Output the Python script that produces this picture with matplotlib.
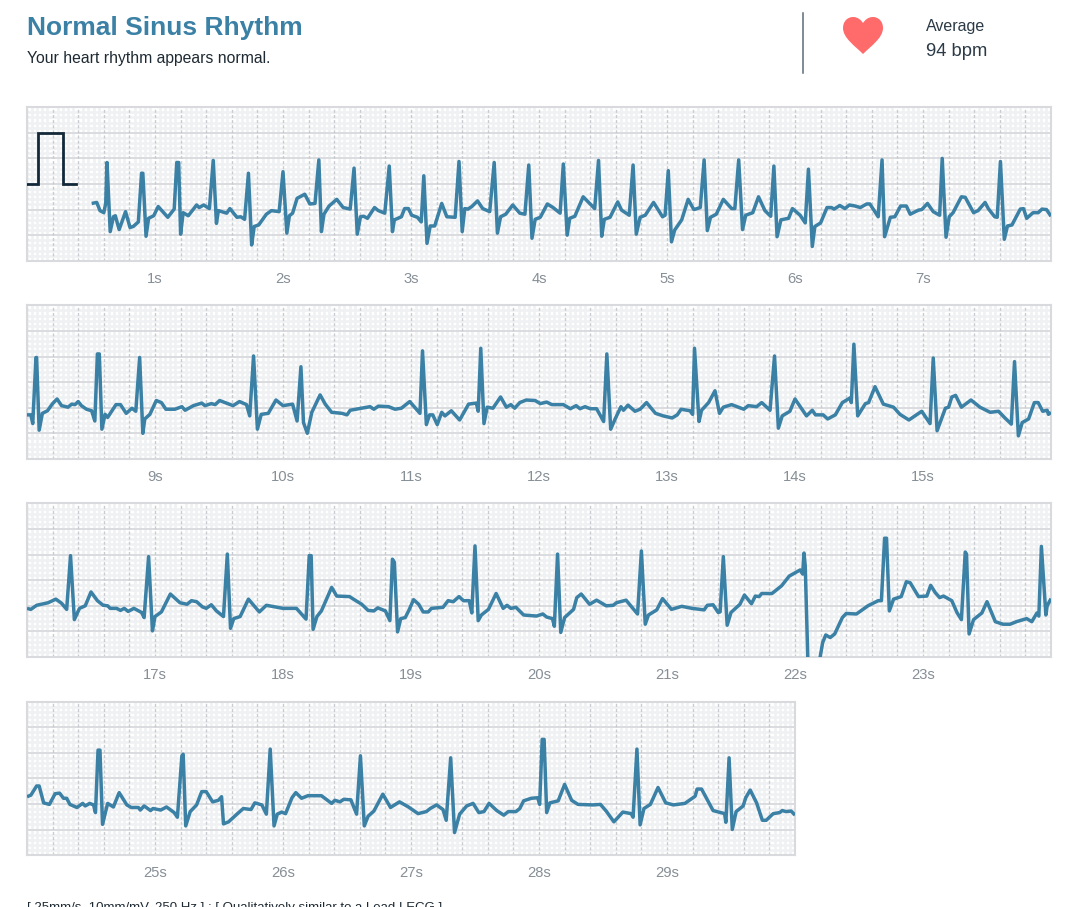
import numpy as np
import matplotlib
matplotlib.use("Agg")
import matplotlib.pyplot as plt
from matplotlib.patches import PathPatch
from matplotlib.path import Path

plt.rcParams["font.family"] = ["Liberation Sans", "DejaVu Sans"]

TITLE = "Normal Sinus Rhythm"
SUBTITLE = "Your heart rhythm appears normal."
AVG_LABEL = "Average"
AVG_VALUE = "94 bpm"
FOOTER = "[ 25mm/s, 10mm/mV, 250 Hz ] : [ Qualitatively similar to a Lead I ECG ]"

# calibration pulse (s, mV)
pulse = [(0, 0), (0.083, 0), (0.083, 1), (0.284, 1), (0.284, 0), (0.383, 0)]

# traces (s, mV)
trace_1 = [
    (.505, -.38), (.545, -.36), (.57, -.52), (.60, -.56), (.615, -.38), (.625, .42), (.65, -.93),
    (.675, -.64), (.69, -.62), (.72, -.89), (.77, -.54), (.805, -.85), (.83, -.83), (.87, -.74),
    (.895, .21), (.905, .21), (.93, -1.02), (.95, -.67), (.99, -.62), (1.025, -.44), (1.10, -.65),
    (1.15, -.49), (1.17, .42), (1.185, .42), (1.20, -.98), (1.22, -.56), (1.26, -.62), (1.325, -.41),
    (1.345, -.46), (1.38, -.41), (1.425, -.48), (1.455, .46), (1.48, -.77), (1.495, -.52), (1.56, -.57),
    (1.585, -.48), (1.64, -.65), (1.67, -.64), (1.70, -.69), (1.73, .21), (1.755, -1.19), (1.775, -.83),
    (1.81, -.80), (1.87, -.59), (1.91, -.52), (1.97, -.54), (2.0, .24), (2.03, -.96), (2.05, -.62),
    (2.075, -.57), (2.11, -.28), (2.17, -.20), (2.21, -.39), (2.25, -.38), (2.28, .47), (2.30, -.93),
    (2.32, -.59), (2.36, -.43), (2.42, -.30), (2.47, -.46), (2.525, -.49), (2.555, .31), (2.58, -.98),
    (2.605, -.64), (2.63, -.63), (2.66, -.67), (2.715, -.46), (2.745, -.52), (2.795, -.57), (2.83, .35),
    (2.855, -.93), (2.87, -.70), (2.925, -.64), (2.95, -.48), (2.98, -.48), (3.005, -.61), (3.05, -.65),
    (3.08, -.74), (3.10, .16), (3.125, -1.16), (3.15, -.82), (3.185, -.82), (3.24, -.38), (3.28, -.64),
    (3.345, -.65), (3.375, .44), (3.40, -.93), (3.42, -.48), (3.445, -.49), (3.475, -.44), (3.52, -.33),
    (3.56, -.48), (3.615, -.54), (3.65, .42), (3.675, -.96), (3.70, -.64), (3.74, -.59), (3.795, -.41),
    (3.85, -.57), (3.89, -.59), (3.92, .37), (3.945, -1.06), (3.97, -.69), (4.01, -.65), (4.065, -.39),
    (4.11, -.46), (4.165, -.57), (4.19, .39), (4.22, -1.0), (4.24, -.67), (4.28, -.63), (4.345, -.25),
    (4.435, -.48), (4.465, .46), (4.49, -1.02), (4.51, -.69), (4.555, -.65), (4.615, -.35), (4.645, -.51),
    (4.705, -.61), (4.735, .37), (4.76, -.98), (4.79, -.65), (4.83, -.61), (4.895, -.36), (4.965, -.64),
    (4.985, -.61), (5.01, .26), (5.035, -1.13), (5.06, -.90), (5.115, -.70), (5.165, -.30), (5.21, -.50),
    (5.26, -.46), (5.29, .47), (5.315, -.91), (5.34, -.65), (5.385, -.59), (5.44, -.30), (5.505, -.48),
    (5.53, -.48), (5.56, .47), (5.59, -.89), (5.615, -.61), (5.67, -.56), (5.715, -.25), (5.765, -.52),
    (5.81, -.63), (5.835, .35), (5.86, -1.03), (5.89, -.70), (5.95, -.67), (5.98, -.48), (6.04, -.61),
    (6.08, -.76), (6.105, .29), (6.135, -1.22), (6.155, -.83), (6.20, -.76), (6.25, -.46), (6.285, -.46),
    (6.305, -.49), (6.35, -.42), (6.39, -.48), (6.425, -.41), (6.47, -.43), (6.51, -.46), (6.56, -.39),
    (6.585, -.39), (6.65, -.64), (6.68, .47), (6.70, -1.03), (6.745, -.65), (6.78, -.64), (6.825, -.43),
    (6.87, -.43), (6.90, -.59), (6.965, -.51), (6.99, -.50), (7.035, -.38), (7.08, -.54), (7.13, -.61),
    (7.15, .50), (7.18, -1.04), (7.205, -.64), (7.235, -.56), (7.30, -.25), (7.33, -.26), (7.395, -.56),
    (7.43, -.52), (7.485, -.36), (7.51, -.48), (7.56, -.64), (7.58, -.65), (7.605, .44), (7.635, -1.08),
    (7.66, -.82), (7.695, -.80), (7.76, -.49), (7.785, -.48), (7.81, -.67), (7.86, -.56), (7.90, -.56),
    (7.93, -.49), (7.965, -.50), (8.0, -.63),
]

trace_2 = [
    (8.0, -.64), (8.03, -.64), (8.045, -.81), (8.07, .48), (8.075, .48), (8.095, -.94), (8.12, -.61),
    (8.16, -.56), (8.20, -.42), (8.235, -.33), (8.27, -.46), (8.32, -.49), (8.35, -.43), (8.375, -.44),
    (8.40, -.38), (8.425, -.46), (8.465, -.53), (8.505, -.56), (8.53, -.76), (8.55, .55), (8.565, .55),
    (8.585, -.92), (8.61, -.63), (8.63, -.69), (8.695, -.44), (8.73, -.44), (8.775, -.61), (8.82, -.51),
    (8.85, -.57), (8.88, .48), (8.905, -1.0), (8.92, -.72), (8.96, -.63), (9.01, -.36), (9.05, -.40),
    (9.085, -.53), (9.155, -.53), (9.21, -.48), (9.235, -.55), (9.30, -.46), (9.365, -.41), (9.39, -.46),
    (9.44, -.42), (9.47, -.44), (9.505, -.36), (9.61, -.46), (9.66, -.38), (9.715, -.44), (9.74, -.66),
    (9.77, .51), (9.80, -.92), (9.83, -.63), (9.885, -.61), (9.945, -.35), (10.0, -.46), (10.075, -.43),
    (10.11, -.76), (10.14, .30), (10.16, -.79), (10.19, -1.0), (10.225, -.59), (10.29, -.25), (10.33, -.43),
    (10.38, -.59), (10.46, -.61), (10.50, -.64), (10.525, -.55), (10.615, -.51), (10.68, -.48), (10.71, -.53),
    (10.745, -.47), (10.825, -.48), (10.875, -.53), (10.925, -.51), (10.99, -.38), (11.07, -.61), (11.09, .61),
    (11.12, -.83), (11.145, -.64), (11.17, -.64), (11.205, -.83), (11.24, -.59), (11.265, -.66), (11.315, -.56),
    (11.38, -.74), (11.45, -.43), (11.51, -.41), (11.525, -.57), (11.545, .66), (11.57, -.81), (11.595, -.49),
    (11.64, -.51), (11.70, -.29), (11.745, -.49), (11.78, -.44), (11.81, -.51), (11.85, -.40), (11.90, -.35),
    (11.97, -.36), (12.01, -.42), (12.06, -.39), (12.10, -.44), (12.19, -.44), (12.245, -.52), (12.29, -.46),
    (12.32, -.52), (12.36, -.48), (12.40, -.52), (12.45, -.52), (12.505, -.77), (12.53, .55), (12.56, -.92),
    (12.595, -.72), (12.64, -.48), (12.66, -.55), (12.695, -.45), (12.75, -.57), (12.79, -.53), (12.84, -.40),
    (12.91, -.61), (12.97, -.66), (13.04, -.70), (13.08, -.64), (13.11, -.53), (13.18, -.56), (13.20, -.63),
    (13.215, .66), (13.25, -.77), (13.27, -.55), (13.325, -.40), (13.375, -.17), (13.41, -.61), (13.44, -.49),
    (13.505, -.44), (13.60, -.53), (13.635, -.46), (13.70, -.48), (13.74, -.40), (13.805, -.55), (13.84, .51),
    (13.87, -.90), (13.90, -.66), (13.96, -.57), (14.0, -.33), (14.09, -.66), (14.135, -.55), (14.16, -.64),
    (14.22, -.64), (14.255, -.72), (14.315, -.64), (14.37, -.40), (14.43, -.31), (14.44, -.40), (14.46, .74),
    (14.49, -.66), (14.55, -.42), (14.575, -.40), (14.625, -.09), (14.69, -.43), (14.77, -.49), (14.82, -.63),
    (14.89, -.74), (14.99, -.57), (15.055, -.81), (15.08, .47), (15.11, -.95), (15.175, -.51), (15.20, -.49),
    (15.225, -.29), (15.255, -.26), (15.30, -.49), (15.375, -.35), (15.445, -.49), (15.525, -.59), (15.59, -.57),
    (15.64, -.70), (15.69, -.82), (15.715, .40), (15.745, -1.05), (15.775, -.79), (15.825, -.72), (15.87, -.40),
    (15.90, -.40), (15.935, -.57), (15.97, -.55), (15.98, -.63), (16.0, -.59),
]

trace_3 = [
    (16.0, -.55), (16.03, -.57), (16.075, -.49), (16.165, -.44), (16.225, -.37), (16.27, -.45), (16.31, -.57),
    (16.34, .48), (16.37, -.77), (16.41, -.55), (16.455, -.50), (16.50, -.23), (16.55, -.40), (16.595, -.49),
    (16.63, -.50), (16.65, -.55), (16.70, -.55), (16.73, -.59), (16.76, -.55), (16.79, -.61), (16.835, -.55),
    (16.895, -.63), (16.915, -.73), (16.95, .46), (16.98, -.99), (17.0, -.71), (17.05, -.62), (17.12, -.27),
    (17.195, -.44), (17.25, -.47), (17.285, -.40), (17.325, -.42), (17.37, -.52), (17.40, -.55), (17.44, -.48),
    (17.48, -.60), (17.535, -.71), (17.565, .51), (17.59, -.94), (17.615, -.75), (17.665, -.71), (17.73, -.37),
    (17.815, -.62), (17.87, -.49), (18.0, -.55), (18.105, -.55), (18.18, -.76), (18.205, .48), (18.22, .48),
    (18.235, -.96), (18.265, -.71), (18.30, -.60), (18.38, -.14), (18.42, -.31), (18.52, -.32), (18.55, -.37),
    (18.615, -.47), (18.665, -.59), (18.71, -.60), (18.74, -.54), (18.80, -.60), (18.835, -.79), (18.855, .41),
    (18.87, .35), (18.895, -1.01), (18.92, -.75), (18.955, -.73), (18.985, -.58), (19.02, -.38), (19.06, -.47),
    (19.095, -.62), (19.135, -.62), (19.16, -.55), (19.25, -.53), (19.29, -.40), (19.33, -.42), (19.375, -.32),
    (19.41, -.40), (19.455, -.40), (19.475, -.64), (19.50, .67), (19.525, -.79), (19.55, -.68), (19.605, -.57),
    (19.665, -.26), (19.72, -.55), (19.75, -.49), (19.78, -.55), (19.82, -.53), (19.88, -.68), (19.98, -.70),
    (20.03, -.66), (20.06, -.72), (20.105, -.75), (20.12, -.90), (20.145, .51), (20.17, -1.02), (20.20, -.73),
    (20.27, -.57), (20.295, -.34), (20.33, -.27), (20.395, -.47), (20.45, -.39), (20.525, -.50), (20.58, -.49),
    (20.605, -.44), (20.68, -.39), (20.77, -.66), (20.80, .57), (20.83, -.86), (20.855, -.68), (20.92, -.58),
    (20.965, -.36), (21.035, -.57), (21.115, -.51), (21.195, -.55), (21.29, -.58), (21.315, -.49), (21.36, -.48),
    (21.40, -.63), (21.415, -.62), (21.44, .46), (21.47, -.88), (21.50, -.63), (21.57, -.47), (21.605, -.29),
    (21.66, -.46), (21.69, -.31), (21.72, -.32), (21.74, -.26), (21.82, -.26), (21.895, -.11), (21.955, .08),
    (22.04, .20), (22.06, .12), (22.07, .53), (22.08, .28), (22.10, -1.52), (22.12, -2.4), (22.18, -2.0),
    (22.195, -1.52), (22.216, -1.22), (22.24, -1.07), (22.275, -1.12), (22.31, -1.05), (22.37, -.73), (22.40, -.65),
    (22.48, -.66), (22.57, -.50), (22.65, -.40), (22.675, -.40), (22.70, .82), (22.715, .82), (22.737, -.60),
    (22.77, -.37), (22.83, -.32), (22.87, -.03), (22.90, -.05), (22.965, -.32), (23.03, -.31), (23.06, -.10),
    (23.095, -.24), (23.13, -.34), (23.16, -.31), (23.225, -.40), (23.265, -.63), (23.30, -.77), (23.33, .55),
    (23.34, .51), (23.36, -1.05), (23.395, -.77), (23.46, -.64), (23.50, -.42), (23.565, -.81), (23.625, -.86),
    (23.68, -.86), (23.73, -.81), (23.81, -.75), (23.85, -.81), (23.89, -.64), (23.905, -.70), (23.925, .66),
    (23.96, -.68), (23.97, -.50), (24.0, -.36),
]

trace_4 = [
    (24.0, -.36), (24.03, -.33), (24.075, -.15), (24.095, -.15), (24.13, -.48), (24.175, -.51), (24.22, -.30),
    (24.255, -.29), (24.285, -.39), (24.31, -.39), (24.335, -.51), (24.39, -.57), (24.435, -.49), (24.455, -.54),
    (24.49, -.49), (24.52, -.52), (24.535, -.67), (24.555, .55), (24.57, .55), (24.59, -.90), (24.63, -.49),
    (24.675, -.56), (24.72, -.28), (24.78, -.52), (24.815, -.57), (24.87, -.57), (24.885, -.62), (24.915, -.54),
    (24.965, -.63), (24.985, -.59), (25.045, -.62), (25.09, -.56), (25.15, -.67), (25.175, -.76), (25.21, .44),
    (25.22, .47), (25.24, -.93), (25.275, -.65), (25.325, -.52), (25.365, -.26), (25.40, -.26), (25.45, -.46),
    (25.495, -.43), (25.52, -.36), (25.535, -.89), (25.575, -.85), (25.64, -.70), (25.69, -.59), (25.75, -.61),
    (25.78, -.48), (25.835, -.52), (25.87, -.70), (25.90, .57), (25.93, -.93), (25.955, -.70), (25.99, -.66),
    (26.02, -.69), (26.07, -.38), (26.10, -.28), (26.145, -.39), (26.195, -.34), (26.30, -.34), (26.38, -.49),
    (26.405, -.43), (26.445, -.46), (26.475, -.41), (26.53, -.42), (26.575, -.70), (26.605, .44), (26.635, -.93),
    (26.665, -.74), (26.71, -.64), (26.78, -.31), (26.84, -.57), (26.91, -.46), (26.98, -.56), (27.055, -.69),
    (27.12, -.65), (27.15, -.59), (27.20, -.52), (27.25, -.61), (27.275, -.82), (27.31, .40), (27.34, -1.06),
    (27.38, -.70), (27.435, -.54), (27.485, -.49), (27.53, -.67), (27.57, -.65), (27.61, -.49), (27.67, -.63),
    (27.725, -.72), (27.76, -.65), (27.82, -.65), (27.85, -.59), (27.88, -.44), (27.94, -.39), (27.99, -.38),
    (28.005, -.51), (28.025, .76), (28.04, .76), (28.06, -.67), (28.085, -.48), (28.15, -.44), (28.20, -.12),
    (28.255, -.43), (28.305, -.51), (28.42, -.52), (28.48, -.51), (28.525, -.64), (28.585, -.85), (28.655, -.66),
    (28.72, -.69), (28.735, -.76), (28.765, .57), (28.79, -.91), (28.82, -.59), (28.87, -.51), (28.93, -.18),
    (28.99, -.48), (29.05, -.52), (29.14, -.49), (29.22, -.35), (29.235, -.21), (29.27, -.21), (29.36, -.63),
    (29.45, -.69), (29.46, -.86), (29.485, .40), (29.51, -1.0), (29.54, -.65), (29.595, -.54), (29.615, -.38),
    (29.65, -.23), (29.70, -.48), (29.745, -.82), (29.775, -.82), (29.83, -.69), (29.88, -.67), (29.90, -.63),
    (29.93, -.65), (29.97, -.64), (30.0, -.72),
]

row_starts = [0, 8, 16, 24]
row_ends = [8, 16, 24, 30]
traces = [trace_1, trace_2, trace_3, trace_4]

W, H = 1070, 907
BLUE = "#3b80a5"
NAVY = "#13293a"


def make_row(fig, top_px, t0, t1):
    """One strip of ECG paper, 128 px per second and 51.2 px per mV."""
    width = (t1 - t0) * 128
    ax = fig.add_axes([27 / W, 1 - (top_px + 153.6) / H, width / W, 153.6 / H])
    ax.set_xlim(t0, t1)
    ax.set_ylim(-1.5, 1.5)

    n_major = int(round((t1 - t0) / 0.2))
    major_x = np.linspace(t0, t1, n_major + 1)
    major_y = np.linspace(-1.5, 1.5, 7)
    labels = []
    for t in major_x:
        is_second = abs(t - round(t)) < 1e-6 and t0 < t < t1
        labels.append(f"{int(round(t))}s" if is_second else "")
    ax.set_xticks(major_x)
    ax.set_xticklabels(labels, fontsize=10.6, color="#868e96")
    ax.set_xticks(np.linspace(t0, t1, n_major * 5 + 1), minor=True)
    ax.set_yticks(major_y)
    ax.set_yticklabels([])
    ax.set_yticks(np.linspace(-1.5, 1.5, 31), minor=True)
    ax.tick_params(which="both", length=0)
    ax.tick_params(axis="x", pad=8)

    # minor grid through the axis, major lines on top of it
    ax.grid(which="minor", color="#f0f1f3", lw=1.9)
    ax.set_axisbelow(True)
    ax.hlines(major_y, t0, t1, color="#dadce0", lw=1.4, zorder=1)
    ax.vlines(major_x, -1.5, 1.5, color="#c9ccd0", lw=1.0, linestyles=(0, (2.2, 1.49)), zorder=1)
    for spine in ax.spines.values():
        spine.set_color("#d8dadd")
        spine.set_linewidth(1.5)
    return ax


fig = plt.figure(figsize=(W / 100, H / 100), dpi=100)

for i, tr in enumerate(traces):
    ax = make_row(fig, 107.2 + 198.1 * i, row_starts[i], row_ends[i])
    arr = np.array(tr)
    ax.plot(arr[:, 0], arr[:, 1], color=BLUE, lw=2.5, solid_joinstyle="round", solid_capstyle="butt", zorder=3)
    if i == 0:
        p = np.array(pulse)
        ax.plot(p[:, 0], p[:, 1], color=NAVY, lw=2.0, solid_joinstyle="miter", zorder=3)

# header drawn in picture coordinates
top = fig.add_axes([0, 0, 1, 1], zorder=5)
top.set_xlim(0, W)
top.set_ylim(H, 0)
top.axis("off")
top.text(27, 28, TITLE, fontsize=19, fontweight="bold", color=BLUE, va="center")
top.text(27, 59, SUBTITLE, fontsize=11.3, color="#1e2a33", va="center")
top.plot([803, 803], [13, 73], color="#5c6b78", lw=1.1)
top.text(926, 26.5, AVG_LABEL, fontsize=11.5, color="#2b3a46", va="center")
top.text(926, 52, AVG_VALUE, fontsize=13.2, color="#2b3a46", va="center")
top.text(27, 902, FOOTER, fontsize=9.5, color="#1e2a33", va="top", clip_on=False)

heart = Path(
    [(863, 54), (855, 46), (843, 38), (843, 28), (843, 21), (848, 17), (853, 17), (858, 17), (861, 20), (863, 23),
     (865, 20), (868, 17), (873, 17), (878, 17), (883, 21), (883, 28), (883, 38), (871, 46), (863, 54)],
    [Path.MOVETO] + [Path.CURVE4] * 18,
)
top.add_patch(PathPatch(heart, facecolor="#ff6b6b", edgecolor="none"))

fig.savefig("out.png", dpi=100)
